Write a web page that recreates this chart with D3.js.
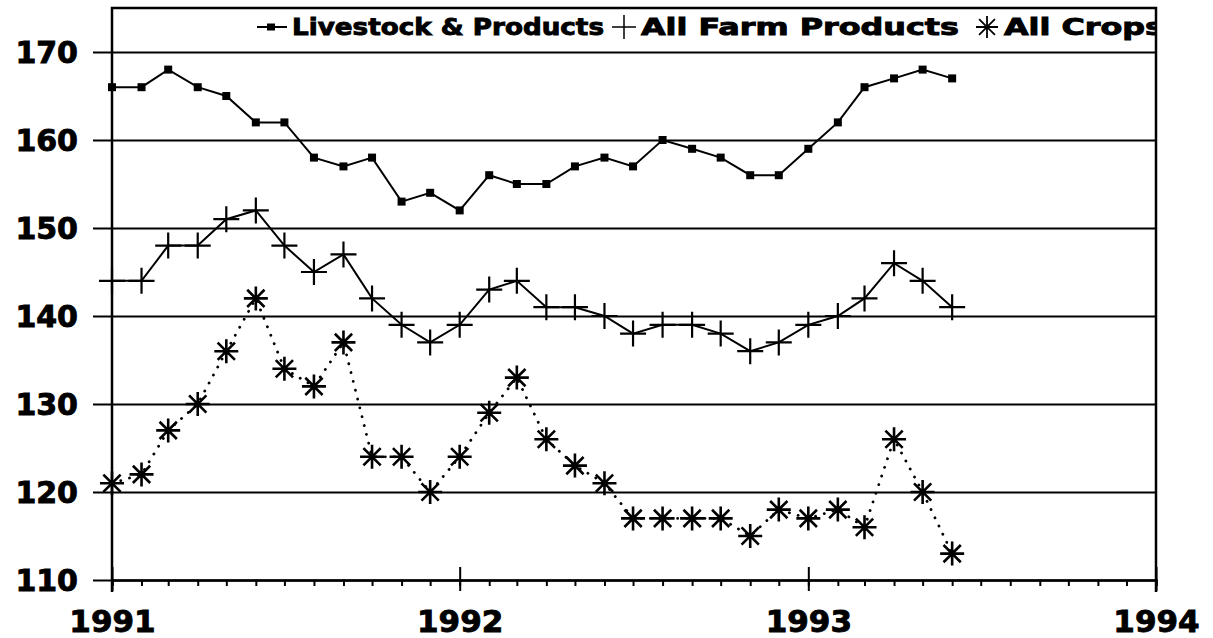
<!DOCTYPE html>
<html>
<head>
<meta charset="utf-8">
<script src="https://cdn.jsdelivr.net/npm/d3@7"></script>
<style>
  body { margin: 0; background: #fff; }
  text { font-family: "DejaVu Sans", sans-serif; font-weight: bold; fill: #000; stroke: #000; stroke-width: 0.9px; }
</style>
</head>
<body>
<svg id="canvas"></svg>
<script>
// monthly index values, Jan 1991 .. Jun 1993
let months = ['1991-01','1991-02','1991-03','1991-04','1991-05','1991-06','1991-07','1991-08','1991-09','1991-10','1991-11','1991-12',
              '1992-01','1992-02','1992-03','1992-04','1992-05','1992-06','1992-07','1992-08','1992-09','1992-10','1992-11','1992-12',
              '1993-01','1993-02','1993-03','1993-04','1993-05','1993-06']
let livestock = [166,166,168,166,165,162,162,158,157,158,153,154, 152,156,155,155,157,158,157,160,159,158,156,156, 159,162,166,167,168,167]
let farm      = [144,144,148,148,151,152,148,145,147,142,139,137, 139,143,144,141,141,140,138,139,139,138,136,137, 139,140,142,146,144,141]
let crops     = [121,122,127,130,136,142,134,132,137,124,124,120, 124,129,133,126,123,121,117,117,117,117,115,118, 117,118,116,126,120,113]
let yTicks = [110,120,130,140,150,160,170]
let yearTicks = ['1991','1992','1993','1994']
let legendLabels = ['Livestock & Products', 'All Farm Products', 'All Crops']

let width = 1213
let height = 638
let plotLeft = 112, plotRight = 1156, plotTop = 8, plotBottom = 580

let parseMonth = d3.timeParse('%Y-%m')
let parseYear = d3.timeParse('%Y')
let dates = months.map(parseMonth)

let canvas = d3.select('#canvas')
canvas.attr('width', width)
      .attr('height', height)
      .style('display', 'block')

let xScale = d3.scaleTime()
               .domain([parseYear('1991'), parseYear('1994')])
               .range([plotLeft, plotRight])
let yScale = d3.scaleLinear()
               .domain([110, 175])
               .range([plotBottom, plotTop])

/* gridlines + y labels (axis hung on the right edge so ticks run across) */
let yAxis = canvas.append('g')
    .attr('transform', 'translate(' + plotRight + ',0)')
    .call(d3.axisLeft(yScale).tickValues(yTicks).tickSize(plotRight - 93).tickPadding(15).tickFormat(d3.format('d')))
yAxis.select('.domain').remove()
yAxis.selectAll('line').attr('stroke', '#000').attr('stroke-width', 2)
yAxis.selectAll('text').style('font-size', '30px').attr('dy', '0.36em')

/* frame */
canvas.append('path')
  .attr('d', 'M' + plotLeft + ',' + (plotBottom + 12) + 'V' + plotTop + 'H' + plotRight + 'V' + (plotBottom + 12))
  .attr('fill', 'none').attr('stroke', '#000').attr('stroke-width', 2.5)

/* x axis: month ticks below, year ticks across */
let xAxis = canvas.append('g')
    .attr('transform', 'translate(0,' + plotBottom + ')')
    .call(d3.axisBottom(xScale).ticks(d3.timeMonth.every(1)).tickSize(6).tickFormat(''))
xAxis.select('.domain').attr('stroke-width', 2.5)
xAxis.selectAll('line').attr('stroke-width', 2)

let yearAxis = canvas.append('g')
    .attr('transform', 'translate(0,' + plotBottom + ')')
    .call(d3.axisBottom(xScale).tickValues(yearTicks.map(parseYear)).tickSize(11).tickFormat(d3.timeFormat('%Y')))
yearAxis.select('.domain').remove()
yearAxis.selectAll('line').attr('y1', -13).attr('stroke-width', 2)
yearAxis.selectAll('text').style('font-size', '31px').attr('y', 52).attr('dy', 0)

/* lines */
let line = (vals) => d3.line()
    .x((d, i) => xScale(dates[i]))
    .y((d) => yScale(d))(vals)

canvas.append('path').attr('d', line(livestock))
  .attr('fill', 'none').attr('stroke', '#000').attr('stroke-width', 2)
canvas.append('path').attr('d', line(farm))
  .attr('fill', 'none').attr('stroke', '#000').attr('stroke-width', 2)
canvas.append('path').attr('d', line(crops))
  .attr('fill', 'none').attr('stroke', '#000').attr('stroke-width', 2.8)
  .attr('stroke-linecap', 'round').attr('stroke-dasharray', '0.1,9')

/* markers */
let plus = (x, y, r) => 'M' + (x - r) + ',' + y + 'H' + (x + r) + 'M' + x + ',' + (y - r) + 'V' + (y + r)
let star = (x, y, r) => {
  let d = r * 0.72
  return plus(x, y, r) + 'M' + (x - d) + ',' + (y - d) + 'L' + (x + d) + ',' + (y + d) +
         'M' + (x - d) + ',' + (y + d) + 'L' + (x + d) + ',' + (y - d)
}

canvas.selectAll('rect.sq')
  .data(livestock).enter().append('rect')
  .attr('class', 'sq')
  .attr('x', (d, i) => xScale(dates[i]) - 4)
  .attr('y', (d) => yScale(d) - 4)
  .attr('width', 8).attr('height', 8)
  .attr('fill', '#000')

canvas.selectAll('path.plus')
  .data(farm).enter().append('path')
  .attr('class', 'plus')
  .attr('d', (d, i) => plus(xScale(dates[i]), yScale(d), 13))
  .attr('stroke', '#000').attr('stroke-width', 2.2)

canvas.selectAll('path.star')
  .data(crops).enter().append('path')
  .attr('class', 'star')
  .attr('d', (d, i) => star(xScale(dates[i]), yScale(d), 12))
  .attr('stroke', '#000').attr('stroke-width', 2.6)

/* legend, clipped by the frame on the right like the original */
canvas.append('clipPath').attr('id', 'frameClip')
  .append('rect').attr('x', plotLeft).attr('y', 0).attr('width', plotRight - plotLeft - 1).attr('height', 60)
let legend = canvas.append('g').attr('clip-path', 'url(#frameClip)')
let ly = 27
legend.append('path').attr('d', 'M257,' + ly + 'H287')
  .attr('stroke', '#000').attr('stroke-width', 2)
legend.append('rect').attr('x', 267).attr('y', ly - 3.5).attr('width', 8).attr('height', 7).attr('fill', '#000')
legend.append('path').attr('d', plus(624, ly, 12)).attr('stroke', '#000').attr('stroke-width', 1.5)
legend.append('path').attr('d', star(987, ly, 11)).attr('stroke', '#000').attr('stroke-width', 1.8)

let legendX = [292, 641, 1004]
let legendW = [312, 318, 160]
legend.selectAll('text')
  .data(legendLabels).enter().append('text')
  .attr('x', (d, i) => legendX[i])
  .attr('y', 35)
  .attr('textLength', (d, i) => legendW[i])
  .attr('lengthAdjust', 'spacingAndGlyphs')
  .style('font-size', '23px')
  .text((d) => d)
</script>
</body>
</html>
